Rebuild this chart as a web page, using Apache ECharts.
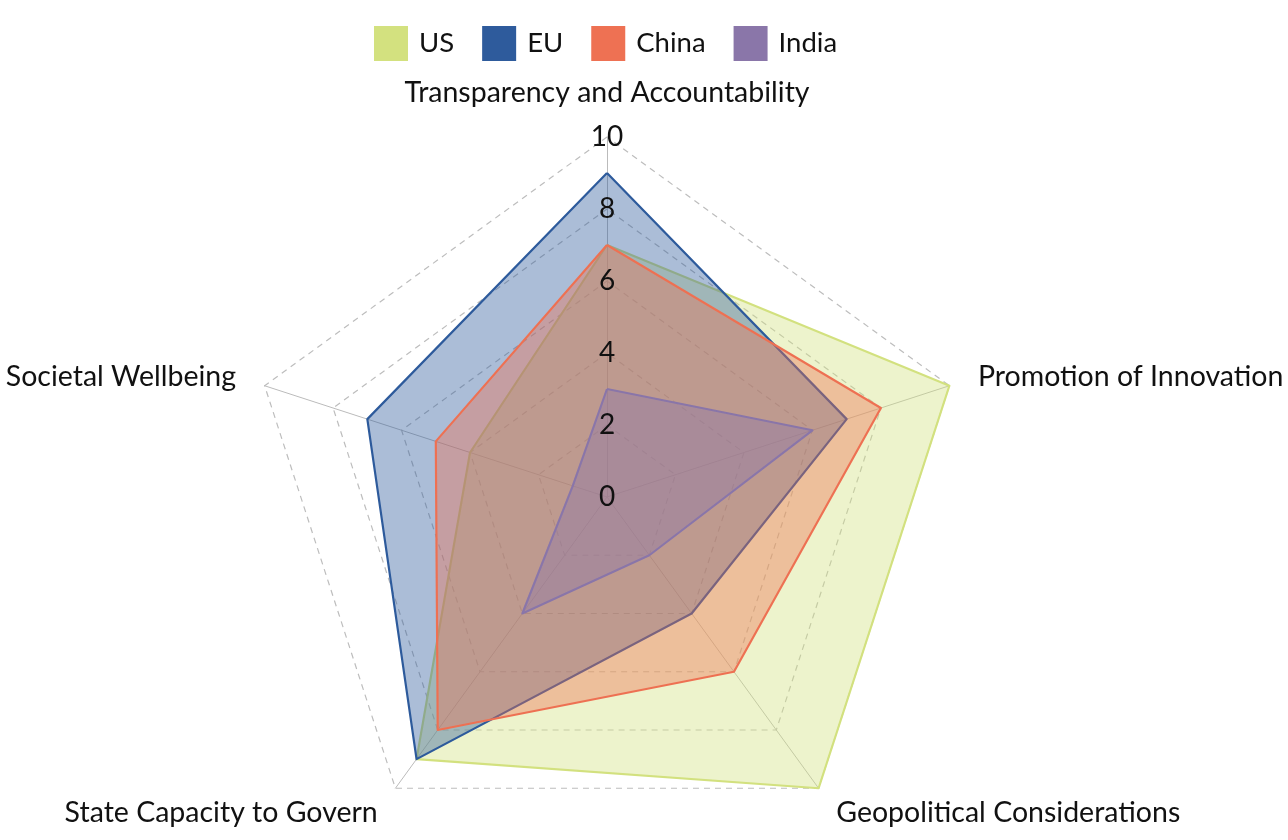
<!DOCTYPE html>
<html>
<head>
<meta charset="utf-8">
<script src="https://cdn.jsdelivr.net/npm/echarts@6/dist/echarts.min.js"></script>
<style>
html,body{margin:0;padding:0;background:#fff;}
#chart{width:1288px;height:840px;}
</style>
</head>
<body>
<div id="chart"></div>
<script>
// Indicators listed in ECharts' drawing order (counter-clockwise from top)
const indicators = ['Transparency and Accountability', 'Societal Wellbeing', 'State Capacity to Govern', 'Geopolitical Considerations', 'Promotion of Innovation'];
const seriesNames = ['US', 'EU', 'China', 'India'];
const usValues = [7, 4, 9, 10, 10];
const euValues = [9, 7, 9, 4, 7];
const chinaValues = [7, 5, 8, 6, 8];
const indiaValues = [3, 1, 4, 2, 6];
const tickLabels = ['0', '2', '4', '6', '8', '10'];
const colors = ['#d3e17f', '#2e5b9c', '#ee7153', '#8a76a9'];
const allValues = [usValues, euValues, chinaValues, indiaValues];

const chart = echarts.init(document.getElementById('chart'));
const font = 'Lato, "Noto Sans", sans-serif';
const baseRadar = {
  center: [607, 497],
  radius: 360,
  startAngle: 90,
  shape: 'polygon',
  splitNumber: 5,
  nameGap: 30
};
chart.setOption({
  animation: false,
  color: colors,
  textStyle: { fontFamily: font },
  legend: {
    data: seriesNames,
    top: 26,
    left: 374,
    padding: 0,
    itemWidth: 34,
    itemHeight: 35,
    itemGap: 28,
    icon: 'rect',
    textStyle: { fontSize: 27.5, color: '#111', fontFamily: font, padding: [0, 0, 0, 6] }
  },
  radar: [
    Object.assign({}, baseRadar, {
      z: 1,
      axisName: { color: '#111', fontSize: 28.5, fontFamily: font },
      indicator: indicators.map(n => ({ name: n, min: 0, max: 10 })),
      axisLabel: { show: false },
      axisLine: { lineStyle: { color: '#bbb', width: 1 } },
      splitLine: { lineStyle: { color: '#bdbdbd', width: 1.2, type: [6, 5] } },
      splitArea: { show: false }
    }),
    Object.assign({}, baseRadar, {
      z: 10,
      axisName: { show: false },
      indicator: indicators.map((n, i) => {
        const o = { name: n, min: 0, max: 10 };
        if (i > 0) o.axisLabel = { show: false };
        return o;
      }),
      axisLabel: {
        show: true,
        margin: 0,
        align: 'center',
        verticalAlign: 'middle',
        fontSize: 28,
        color: '#111',
        fontFamily: font,
        formatter: (v) => tickLabels[Math.round(v / 2)]
      },
      axisLine: { show: false },
      axisTick: { show: false },
      splitLine: { show: false },
      splitArea: { show: false }
    })
  ],
  series: [{
    type: 'radar',
    radarIndex: 0,
    z: 2,
    symbol: 'none',
    data: allValues.map((v, i) => ({
      name: seriesNames[i],
      value: v,
      lineStyle: { color: colors[i], width: 2.2 },
      itemStyle: { color: colors[i] },
      areaStyle: { color: colors[i], opacity: 0.4 }
    }))
  }]
});
</script>
</body>
</html>
